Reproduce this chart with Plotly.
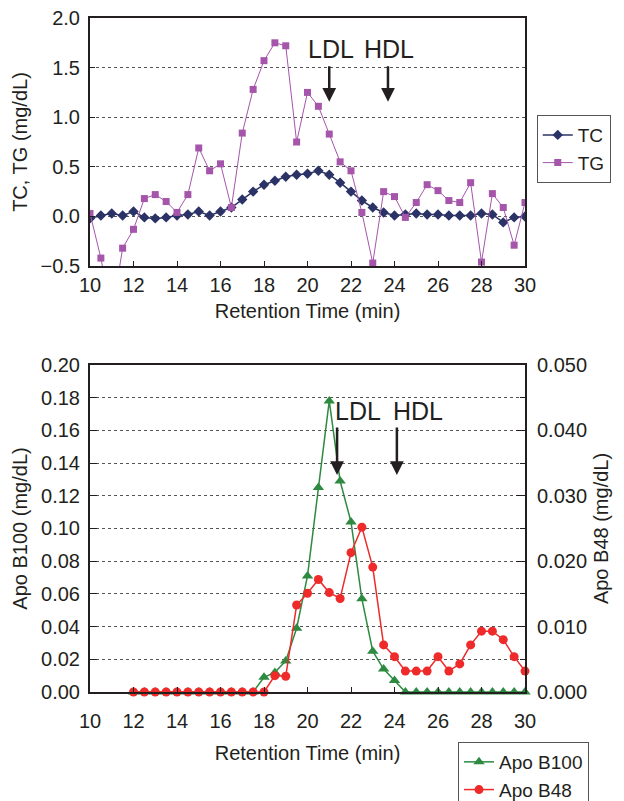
import plotly.graph_objects as go

# ---- data ----
time_top = [10 + 0.5 * i for i in range(41)]
tc = [-0.02, 0.01, 0.03, 0.01, 0.05, -0.01, -0.02, -0.01, 0.01, 0.02,
      0.05, 0.01, 0.05, 0.09, 0.17, 0.25, 0.32, 0.36, 0.40, 0.42,
      0.43, 0.46, 0.42, 0.34, 0.25, 0.16, 0.09, 0.04, 0.01, 0.02,
      0.03, 0.02, 0.02, 0.01, 0.01, 0.01, 0.03, 0.02, -0.06, -0.01, 0.0]
tg = [0.03, -0.42, -1.0, -0.32, -0.13, 0.18, 0.22, 0.15, 0.04, 0.22,
      0.69, 0.46, 0.53, 0.09, 0.84, 1.28, 1.57, 1.75, 1.72, 0.75,
      1.25, 1.11, 0.83, 0.55, 0.46, 0.04, -0.47, 0.25, 0.20, -0.01,
      0.14, 0.32, 0.26, 0.16, 0.14, 0.34, -0.46, 0.23, 0.09, -0.29, 0.14]

time_bot = [12 + 0.5 * i for i in range(37)]
apob100 = [0, 0, 0, 0, 0, 0, 0, 0, 0, 0, 0, 0,
           0.009, 0.012, 0.019, 0.039, 0.071, 0.125, 0.178, 0.129, 0.104,
           0.057, 0.025, 0.014, 0.007,
           0, 0, 0, 0, 0, 0, 0, 0, 0, 0, 0, 0]
apob48 = [0, 0, 0, 0, 0, 0, 0, 0, 0, 0, 0, 0,
          0.0, 0.0025, 0.0024, 0.0133, 0.0151, 0.0172, 0.0152, 0.0143, 0.0213,
          0.0252, 0.0191, 0.0072, 0.0054, 0.0032, 0.0032, 0.0032, 0.0054, 0.0032,
          0.0043, 0.0072, 0.0093, 0.0093, 0.0080, 0.0054, 0.0032]

x_ticks = list(range(10, 31, 2))

FONT = "Liberation Sans, Arial, Helvetica, sans-serif"
AX = "#231f20"

fig = go.Figure()
fig.add_trace(go.Scatter(x=time_top, y=tc, name="TC", mode="lines+markers",
                         line=dict(color="#2b3366", width=1.5),
                         marker=dict(symbol="diamond", size=8, color="#2b3366"),
                         xaxis="x", yaxis="y", legend="legend"))
fig.add_trace(go.Scatter(x=time_top, y=tg, name="TG", mode="lines+markers",
                         line=dict(color="#a555aa", width=1),
                         marker=dict(symbol="square", size=7, color="#a555aa"),
                         xaxis="x", yaxis="y", legend="legend"))
fig.add_trace(go.Scatter(x=time_bot, y=apob100, name="Apo B100", mode="lines+markers",
                         line=dict(color="#2e8a40", width=1.5),
                         marker=dict(symbol="triangle-up", size=10, color="#2e8a40"),
                         cliponaxis=False,
                         xaxis="x2", yaxis="y2", legend="legend2"))
fig.add_trace(go.Scatter(x=time_bot, y=apob48, name="Apo B48", mode="lines+markers",
                         line=dict(color="#ee2a2a", width=1.5),
                         marker=dict(symbol="circle", size=9, color="#ee2a2a"),
                         cliponaxis=False,
                         xaxis="x2", yaxis="y3", legend="legend2"))

def xax(anchor, lab_off, title_off):
    return dict(domain=[0, 1], anchor=anchor, range=[10, 30], tickvals=x_ticks,
                ticks="inside", ticklen=5, tickcolor=AX,
                showline=True, linecolor=AX, linewidth=2, mirror=True,
                showgrid=False, zeroline=False, automargin=False,
                ticklabelstandoff=lab_off, ticklabeloverflow="allow",
                tickfont=dict(size=20, color="#231f20"),
                title=dict(text="Retention Time (min)", font=dict(size=20, color="#231f20"),
                           standoff=title_off))

fig.update_layout(
    width=616, height=793,
    margin=dict(l=82, r=99, t=10, b=109, autoexpand=False),
    paper_bgcolor="white", plot_bgcolor="white",
    font=dict(family=FONT, color="#231f20", size=20),
    xaxis=xax("y", 0, 9),
    yaxis=dict(domain=[0.632, 1], anchor="x", range=[-0.5, 2.0], dtick=0.5,
               tickformat=".1f", ticks="inside", ticklen=5, tickcolor=AX,
               showline=True, linecolor=AX, linewidth=2, mirror=True,
               showgrid=True, gridcolor="#555555", griddash="dot", gridwidth=1,
               zeroline=False, automargin=False, ticklabelstandoff=4,
               ticklabeloverflow="allow",
               tickfont=dict(size=20),
               title=dict(text="TC, TG (mg/dL)", font=dict(size=20), standoff=8)),
    xaxis2=xax("y2", 10, 15),
    yaxis2=dict(domain=[0, 0.4852], anchor="x2", range=[0, 0.20], dtick=0.02,
                tickformat=".2f", ticks="inside", ticklen=7, tickcolor=AX,
                showline=True, linecolor=AX, linewidth=2, mirror=False,
                showgrid=True, gridcolor="#555555", griddash="dot", gridwidth=1,
                zeroline=False, automargin=False, ticklabelstandoff=4,
                ticklabeloverflow="allow",
                tickfont=dict(size=20),
                title=dict(text="Apo B100 (mg/dL)", font=dict(size=20), standoff=8)),
    yaxis3=dict(overlaying="y2", side="right", anchor="x2", range=[0, 0.05], dtick=0.01,
                tickformat=".3f", ticks="inside", ticklen=9, tickcolor=AX,
                minor=dict(dtick=0.005, ticks="inside", ticklen=5, tickcolor=AX),
                showline=True, linecolor=AX, linewidth=2,
                showgrid=False, zeroline=False, automargin=False, ticklabelstandoff=6,
                ticklabeloverflow="allow",
                tickfont=dict(size=20),
                title=dict(text="Apo B48 (mg/dL)", font=dict(size=20), standoff=8)),
    legend=dict(x=1.027, y=0.856, xanchor="left", yanchor="top",
                bordercolor="#555555", borderwidth=1, bgcolor="white",
                font=dict(size=19), tracegroupgap=0, itemwidth=30),
    legend2=dict(x=0.846, y=-0.0742, xanchor="left", yanchor="top",
                 bordercolor="#555555", borderwidth=1, bgcolor="white",
                 font=dict(size=19), tracegroupgap=0, itemwidth=30),
    showlegend=True,
)

# LDL / HDL labels and arrows
ann = []
for txt, tx, arx in [("LDL", 21.06, 21.0), ("HDL", 23.75, 23.7)]:
    ann.append(dict(x=tx, y=1.683, xref="x", yref="y", text=txt, showarrow=False,
                    font=dict(size=25, color="#231f20")))
    ann.append(dict(x=arx, y=1.155, xref="x", yref="y", text="", showarrow=True,
                    ax=0, ay=-37, arrowhead=2, arrowsize=1.1, arrowwidth=2.5,
                    arrowcolor="#231f20"))
for txt, tx, arx in [("LDL", 22.3, 21.36), ("HDL", 25.06, 24.11)]:
    ann.append(dict(x=tx, y=0.1719, xref="x2", yref="y2", text=txt, showarrow=False,
                    font=dict(size=25, color="#231f20")))
    ann.append(dict(x=arx, y=0.1327, xref="x2", yref="y2", text="", showarrow=True,
                    ax=0, ay=-49, arrowhead=2, arrowsize=1.1, arrowwidth=2.5,
                    arrowcolor="#231f20"))
fig.update_layout(annotations=ann)

fig.write_html("out.html")
